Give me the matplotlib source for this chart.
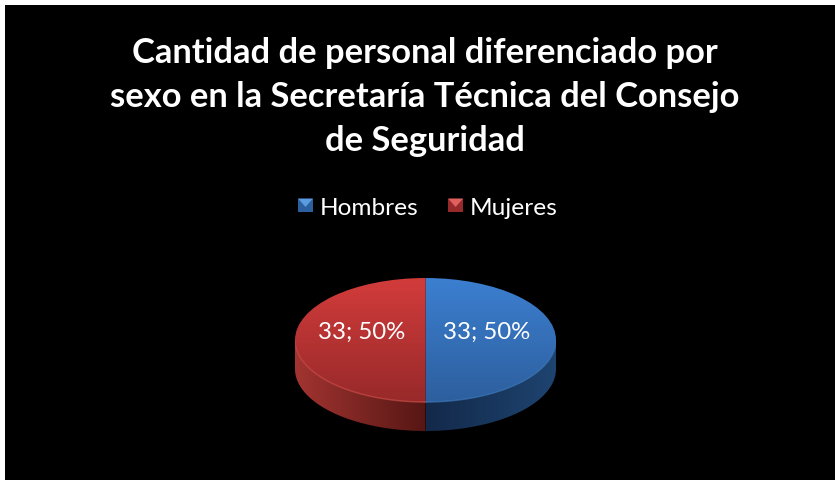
import numpy as np
import matplotlib
matplotlib.use("Agg")
import matplotlib.pyplot as plt
from matplotlib.colors import LinearSegmentedColormap
from matplotlib.legend_handler import HandlerBase
from matplotlib.patches import Patch, Rectangle, Polygon

plt.rcParams['font.family'] = ['Lato', 'DejaVu Sans']

# data
categories = ["Hombres", "Mujeres"]
values = [33, 33]
title_text = "Cantidad de personal diferenciado por\nsexo en la Secretaría Técnica del Consejo\nde Seguridad"

W, H = 835, 481
top_grad = [("#3c7fd0", "#2d5f9e"), ("#d23c3b", "#98292a")]
side_grad = [("#13294a", "#1e4470"), ("#a23431", "#561714")]
rim = ["#3f7cc0", "#d2504c"]
legend_cols = [("#5b9be0", "#2c5f9f"), ("#e06060", "#98292a")]

fig = plt.figure(figsize=(W / 100, H / 100), dpi=100, facecolor="white")
fig.add_artist(Rectangle((5 / W, 0), (W - 5) / W, (H - 6) / H, transform=fig.transFigure,
                         facecolor="black", edgecolor="none", zorder=-5))

# axes: the top ellipse fills x 295..556, y 279..403 px; side wall extends below it
x0, x1, ytop, ybot, depth_px = 295, 556, 279, 403, 29
ax = fig.add_axes([x0 / W, (H - ybot - depth_px) / H, (x1 - x0) / W, (ybot + depth_px - ytop) / H])
depth = depth_px / ((ybot - ytop) / 2)
limits = (-1, 1, -1 - depth, 1)

wedges, texts, autotexts = ax.pie(
    values, startangle=90, counterclock=False, radius=1, colors=["none", "none"],
    autopct=lambda p: f"{p * sum(values) / 100:.0f}; {p:.0f}%", pctdistance=0.47,
    textprops=dict(color="white", fontsize=17.3), wedgeprops=dict(linewidth=0))
for t in autotexts:
    x, y = t.get_position()
    t.set_position((x * (1.04 if x < 0 else 1.0), y + 0.14))
    t.set_zorder(10)
    t.set_ha("center")
    t.set_va("center")

def grad(c1, c2, vertical=True):
    cm = LinearSegmentedColormap.from_list("g", [c1, c2])
    g = np.linspace(0, 1, 256)
    return (g[:, None] if vertical else g[None, :]), cm

for i, w in enumerate(wedges):
    # side wall region: lower half arc of the wedge, extruded downward
    a1, a2 = sorted((w.theta1, w.theta2))
    ang = np.deg2rad(np.linspace(a1, a2, 200))
    xs, ys = np.cos(ang), np.sin(ang)
    keep = ys <= 1e-9
    xs, ys = xs[keep], ys[keep]
    pts = np.r_[np.c_[xs, ys], np.c_[xs[::-1], ys[::-1] - depth]]
    wall = Polygon(pts, closed=True, transform=ax.transData, facecolor="none", edgecolor="none")
    ax.add_patch(wall)
    arr, cm = grad(*side_grad[i], vertical=False)
    ex = (0, 1) if i == 0 else (-1, 0)
    im = ax.imshow(arr, cmap=cm, extent=(ex[0], ex[1], -1 - depth, 0), aspect="auto", zorder=1)
    im.set_clip_path(wall)
    # top surface
    arr, cm = grad(*top_grad[i], vertical=True)
    im = ax.imshow(arr, cmap=cm, extent=(-1, 1, -1, 1), aspect="auto", zorder=2, origin="upper")
    im.set_clip_path(w)
    # lighter rim along the front edge of the top
    ax.plot(xs, ys, color=rim[i], lw=1.0, alpha=0.7, zorder=3, solid_capstyle="round")

ax.set_aspect("auto")
ax.set_xlim(limits[0], limits[1])
ax.set_ylim(limits[2], limits[3])
ax.axis("off")
ax.patch.set_alpha(0)

class Marker(HandlerBase):
    def create_artists(self, legend, orig, xd, yd, width, height, fontsize, trans):
        c1, c2 = orig.cols
        s = 15.0 * 72 / 100
        h = 13.0 * 72 / 100
        ox = -xd
        oy = -yd + (height - h) / 2
        base = Rectangle((ox, oy), s, h, facecolor=c2, edgecolor="none", transform=trans)
        tri = Polygon([(ox, oy + h), (ox + s, oy + h), (ox + s / 2, oy + h * 0.35)],
                      closed=True, facecolor=c1, edgecolor="none", transform=trans)
        return [base, tri]

handles = []
for c, cols in zip(categories, legend_cols):
    p = Patch(label=c)
    p.cols = cols
    handles.append(p)

leg = fig.legend(handles=handles, loc="center", bbox_to_anchor=(428 / W, 1 - 208 / H), ncol=2,
                 frameon=False, labelcolor="white", fontsize=17.6, handlelength=0.8,
                 handleheight=0.7, handletextpad=0.1, columnspacing=1.2,
                 handler_map={Patch: Marker()})

fig.text(425 / W, 1 - 97 / H, title_text, ha="center", va="center", color="white",
         fontsize=24.8, fontweight="bold", linespacing=1.47)

fig.savefig("out.png", dpi=100, facecolor="white")
